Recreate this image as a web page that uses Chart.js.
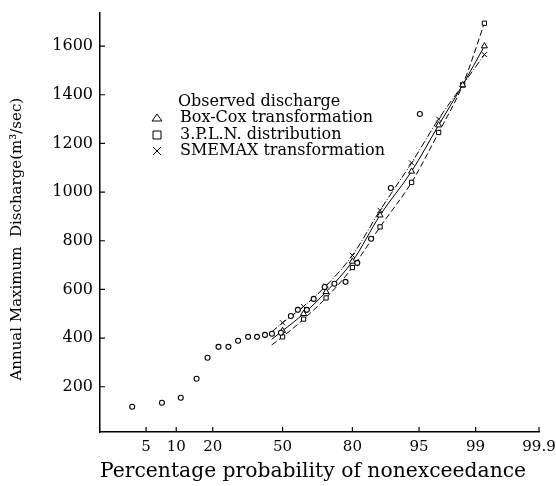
<!DOCTYPE html>
<html>
<head>
<meta charset="utf-8">
<script src="https://cdn.jsdelivr.net/npm/chart.js@4.4.0/dist/chart.umd.min.js"></script>
<style>
  html, body { margin: 0; padding: 0; background: #fff; }
</style>
</head>
<body>
<canvas id="chart" width="556" height="486"></canvas>
<script>
// --- Data ---
const xTickLabels = [5, 10, 20, 50, 80, 95, 99, 99.9];
const yTickValues = [200, 400, 600, 800, 1000, 1200, 1400, 1600];

// observed discharge (plotting position %, m3/sec)
const obsProb = [3.5, 7.3, 11.0, 15.0, 18.3, 22.0, 25.7, 29.6, 33.9, 37.9, 41.6, 44.9, 49.2,
                 54.0, 57.3, 61.5, 64.6, 69.4, 73.4, 77.6, 81.6, 85.7, 90.4, 95.1];
const obsQ = [118, 134, 155, 233, 319, 364, 364, 389, 405, 405, 413, 418, 422,
              491, 516, 516, 561, 610, 623, 631, 709, 808, 1017, 1321];

// fitted curves (first point is only the line running in, no marker)
const fitProb = [44.8, 50, 60, 70, 80, 88, 94, 97, 98.5, 99.25];
const boxCoxQ = [395, 430, 500, 590, 715, 905, 1085, 1275, 1440, 1600];
const plnQ    = [372, 405, 478, 565, 690, 857, 1040, 1245, 1440, 1694];
const smemaxQ = [425, 463, 530, 615, 740, 925, 1120, 1300, 1440, 1565];

// --- normal probability paper: percent -> standard normal quantile ---
const probit = (p) => {
    const a = [-3.969683028665376e+01, 2.209460984245205e+02, -2.759285104469687e+02, 1.383577518672690e+02, -3.066479806614716e+01, 2.506628277459239e+00];
    const b = [-5.447609879822406e+01, 1.615858368580409e+02, -1.556989798598866e+02, 6.680131188771972e+01, -1.328068155288572e+01];
    const c = [-7.784894002430293e-03, -3.223964580411365e-01, -2.400758277161838e+00, -2.549671348133316e+00, 4.374664141464968e+00, 2.938163982698783e+00];
    const d = [7.784695709041462e-03, 3.224671290700398e-01, 2.445134137142996e+00, 3.754408661907416e+00];
    const tail = (q) => (((((c[0]*q+c[1])*q+c[2])*q+c[3])*q+c[4])*q+c[5]) / ((((d[0]*q+d[1])*q+d[2])*q+d[3])*q+1);
    if (p < 0.02425) return tail(Math.sqrt(-2 * Math.log(p)));
    if (p > 1 - 0.02425) return -tail(Math.sqrt(-2 * Math.log(1 - p)));
    const q = p - 0.5, r = q * q;
    return (((((a[0]*r+a[1])*r+a[2])*r+a[3])*r+a[4])*r+a[5])*q / (((((b[0]*r+b[1])*r+b[2])*r+b[3])*r+b[4])*r+1);
};

const toPoints = (probs, vals) => probs.map((p, i) => ({ x: probit(p / 100), y: vals[i] }));

const SERIF = '"DejaVu Serif", "Liberation Serif", serif';

// inward tick marks on both axes
const innerTicks = {
    id: 'innerTicks',
    afterDraw(chart) {
        const { ctx, chartArea, scales: { x, y } } = chart;
        ctx.save();
        ctx.strokeStyle = '#000';
        ctx.lineWidth = 1.2;
        ctx.beginPath();
        x.ticks.forEach(t => {
            const px = x.getPixelForValue(t.value);
            ctx.moveTo(px, chartArea.bottom);
            ctx.lineTo(px, chartArea.bottom - 5);
        });
        y.ticks.forEach(t => {
            const py = y.getPixelForValue(t.value);
            ctx.moveTo(chartArea.left, py);
            ctx.lineTo(chartArea.left + 5, py);
        });
        ctx.stroke();
        ctx.restore();
    }
};

// legend sitting inside the plot, as in the figure
const plotLegend = {
    id: 'plotLegend',
    afterDatasetsDraw(chart) {
        const { ctx, chartArea } = chart;
        const left = chartArea.left;
        const rows = [
            { text: chart.data.datasets[0].label, y: 102, shape: null },
            { text: chart.data.datasets[1].label, y: 118, shape: 'triangle' },
            { text: chart.data.datasets[2].label, y: 135, shape: 'rect' },
            { text: chart.data.datasets[3].label, y: 151, shape: 'cross' }
        ];
        ctx.save();
        ctx.fillStyle = '#000';
        ctx.strokeStyle = '#000';
        ctx.lineWidth = 1;
        ctx.font = '16px ' + SERIF;
        ctx.textBaseline = 'middle';
        rows.forEach(r => {
            ctx.fillText(r.text, left + (r.shape ? 80 : 78), r.y);
            const mx = left + 57, my = r.y;
            ctx.beginPath();
            if (r.shape === 'triangle') {
                ctx.moveTo(mx, my - 4); ctx.lineTo(mx + 5, my + 3); ctx.lineTo(mx - 5, my + 3); ctx.closePath();
            } else if (r.shape === 'rect') {
                ctx.rect(mx - 4, my - 4, 8, 8);
            } else if (r.shape === 'cross') {
                ctx.moveTo(mx - 4, my - 4); ctx.lineTo(mx + 4, my + 4);
                ctx.moveTo(mx + 4, my - 4); ctx.lineTo(mx - 4, my + 4);
            }
            if (r.shape) ctx.stroke();
        });
        ctx.restore();
    }
};

const fitRadius = (r) => (c) => (c.dataIndex === 0 ? 0 : r);

new Chart(document.getElementById('chart'), {
    type: 'scatter',
    data: {
        datasets: [
            {
                label: 'Observed discharge',
                data: toPoints(obsProb, obsQ),
                pointStyle: 'circle',
                pointRadius: 2.5,
                borderColor: '#000',
                backgroundColor: '#fff',
                borderWidth: 1.1
            },
            {
                label: 'Box-Cox transformation',
                data: toPoints(fitProb, boxCoxQ),
                showLine: true,
                cubicInterpolationMode: 'monotone',
                pointStyle: 'triangle',
                pointRadius: fitRadius(3.5),
                borderColor: '#000',
                backgroundColor: '#fff',
                borderWidth: 1
            },
            {
                label: '3.P.L.N. distribution',
                data: toPoints(fitProb, plnQ),
                showLine: true,
                borderDash: [6, 3],
                cubicInterpolationMode: 'monotone',
                pointStyle: 'rect',
                pointRadius: fitRadius(3),
                borderColor: '#000',
                backgroundColor: '#fff',
                borderWidth: 1
            },
            {
                label: 'SMEMAX transformation',
                data: toPoints(fitProb, smemaxQ),
                showLine: true,
                borderDash: [7, 2, 1, 2],
                cubicInterpolationMode: 'monotone',
                pointStyle: 'crossRot',
                pointRadius: fitRadius(3.5),
                borderColor: '#000',
                backgroundColor: '#fff',
                borderWidth: 1
            }
        ]
    },
    options: {
        responsive: false,
        animation: false,
        layout: { padding: { top: 13, right: 0, left: 0, bottom: 0 } },
        plugins: { legend: { display: false }, tooltip: { enabled: false } },
        scales: {
            x: {
                type: 'linear',
                min: -2.2,
                max: probit(0.999),
                afterBuildTicks: (scale) => { scale.ticks = xTickLabels.map(p => ({ value: probit(p / 100) })); },
                afterFit: (scale) => { scale.height = 54; scale.paddingRight = 17; scale.paddingLeft = 0; },
                ticks: {
                    color: '#000',
                    padding: 6,
                    maxRotation: 0,
                    autoSkip: false,
                    font: { family: SERIF, size: 15 },
                    callback: (v, i) => String(xTickLabels[i])
                },
                grid: { display: false, drawTicks: false },
                border: { display: true, color: '#000', width: 1.5 },
                title: {
                    display: true,
                    text: 'Percentage probability of nonexceedance  ',
                    color: '#000',
                    font: { family: SERIF, size: 21 },
                    padding: { top: 0, bottom: 2 }
                }
            },
            y: {
                min: 14,
                max: 1736,
                afterBuildTicks: (scale) => { scale.ticks = yTickValues.map(v => ({ value: v })); },
                afterFit: (scale) => { scale.width = 100; scale.paddingTop = 0; scale.paddingBottom = 0; },
                ticks: {
                    color: '#000',
                    padding: 7,
                    font: { family: SERIF, size: 16 },
                    callback: (v) => String(v)
                },
                grid: { display: false, drawTicks: false },
                border: { display: true, color: '#000', width: 1.5 },
                title: {
                    display: true,
                    text: 'Annual Maximum  Discharge(m\u00b3/sec)       ',
                    color: '#000',
                    font: { family: SERIF, size: 15 },
                    padding: { top: 8, bottom: 0 }
                }
            }
        }
    },
    plugins: [innerTicks, plotLegend]
});
</script>
</body>
</html>
